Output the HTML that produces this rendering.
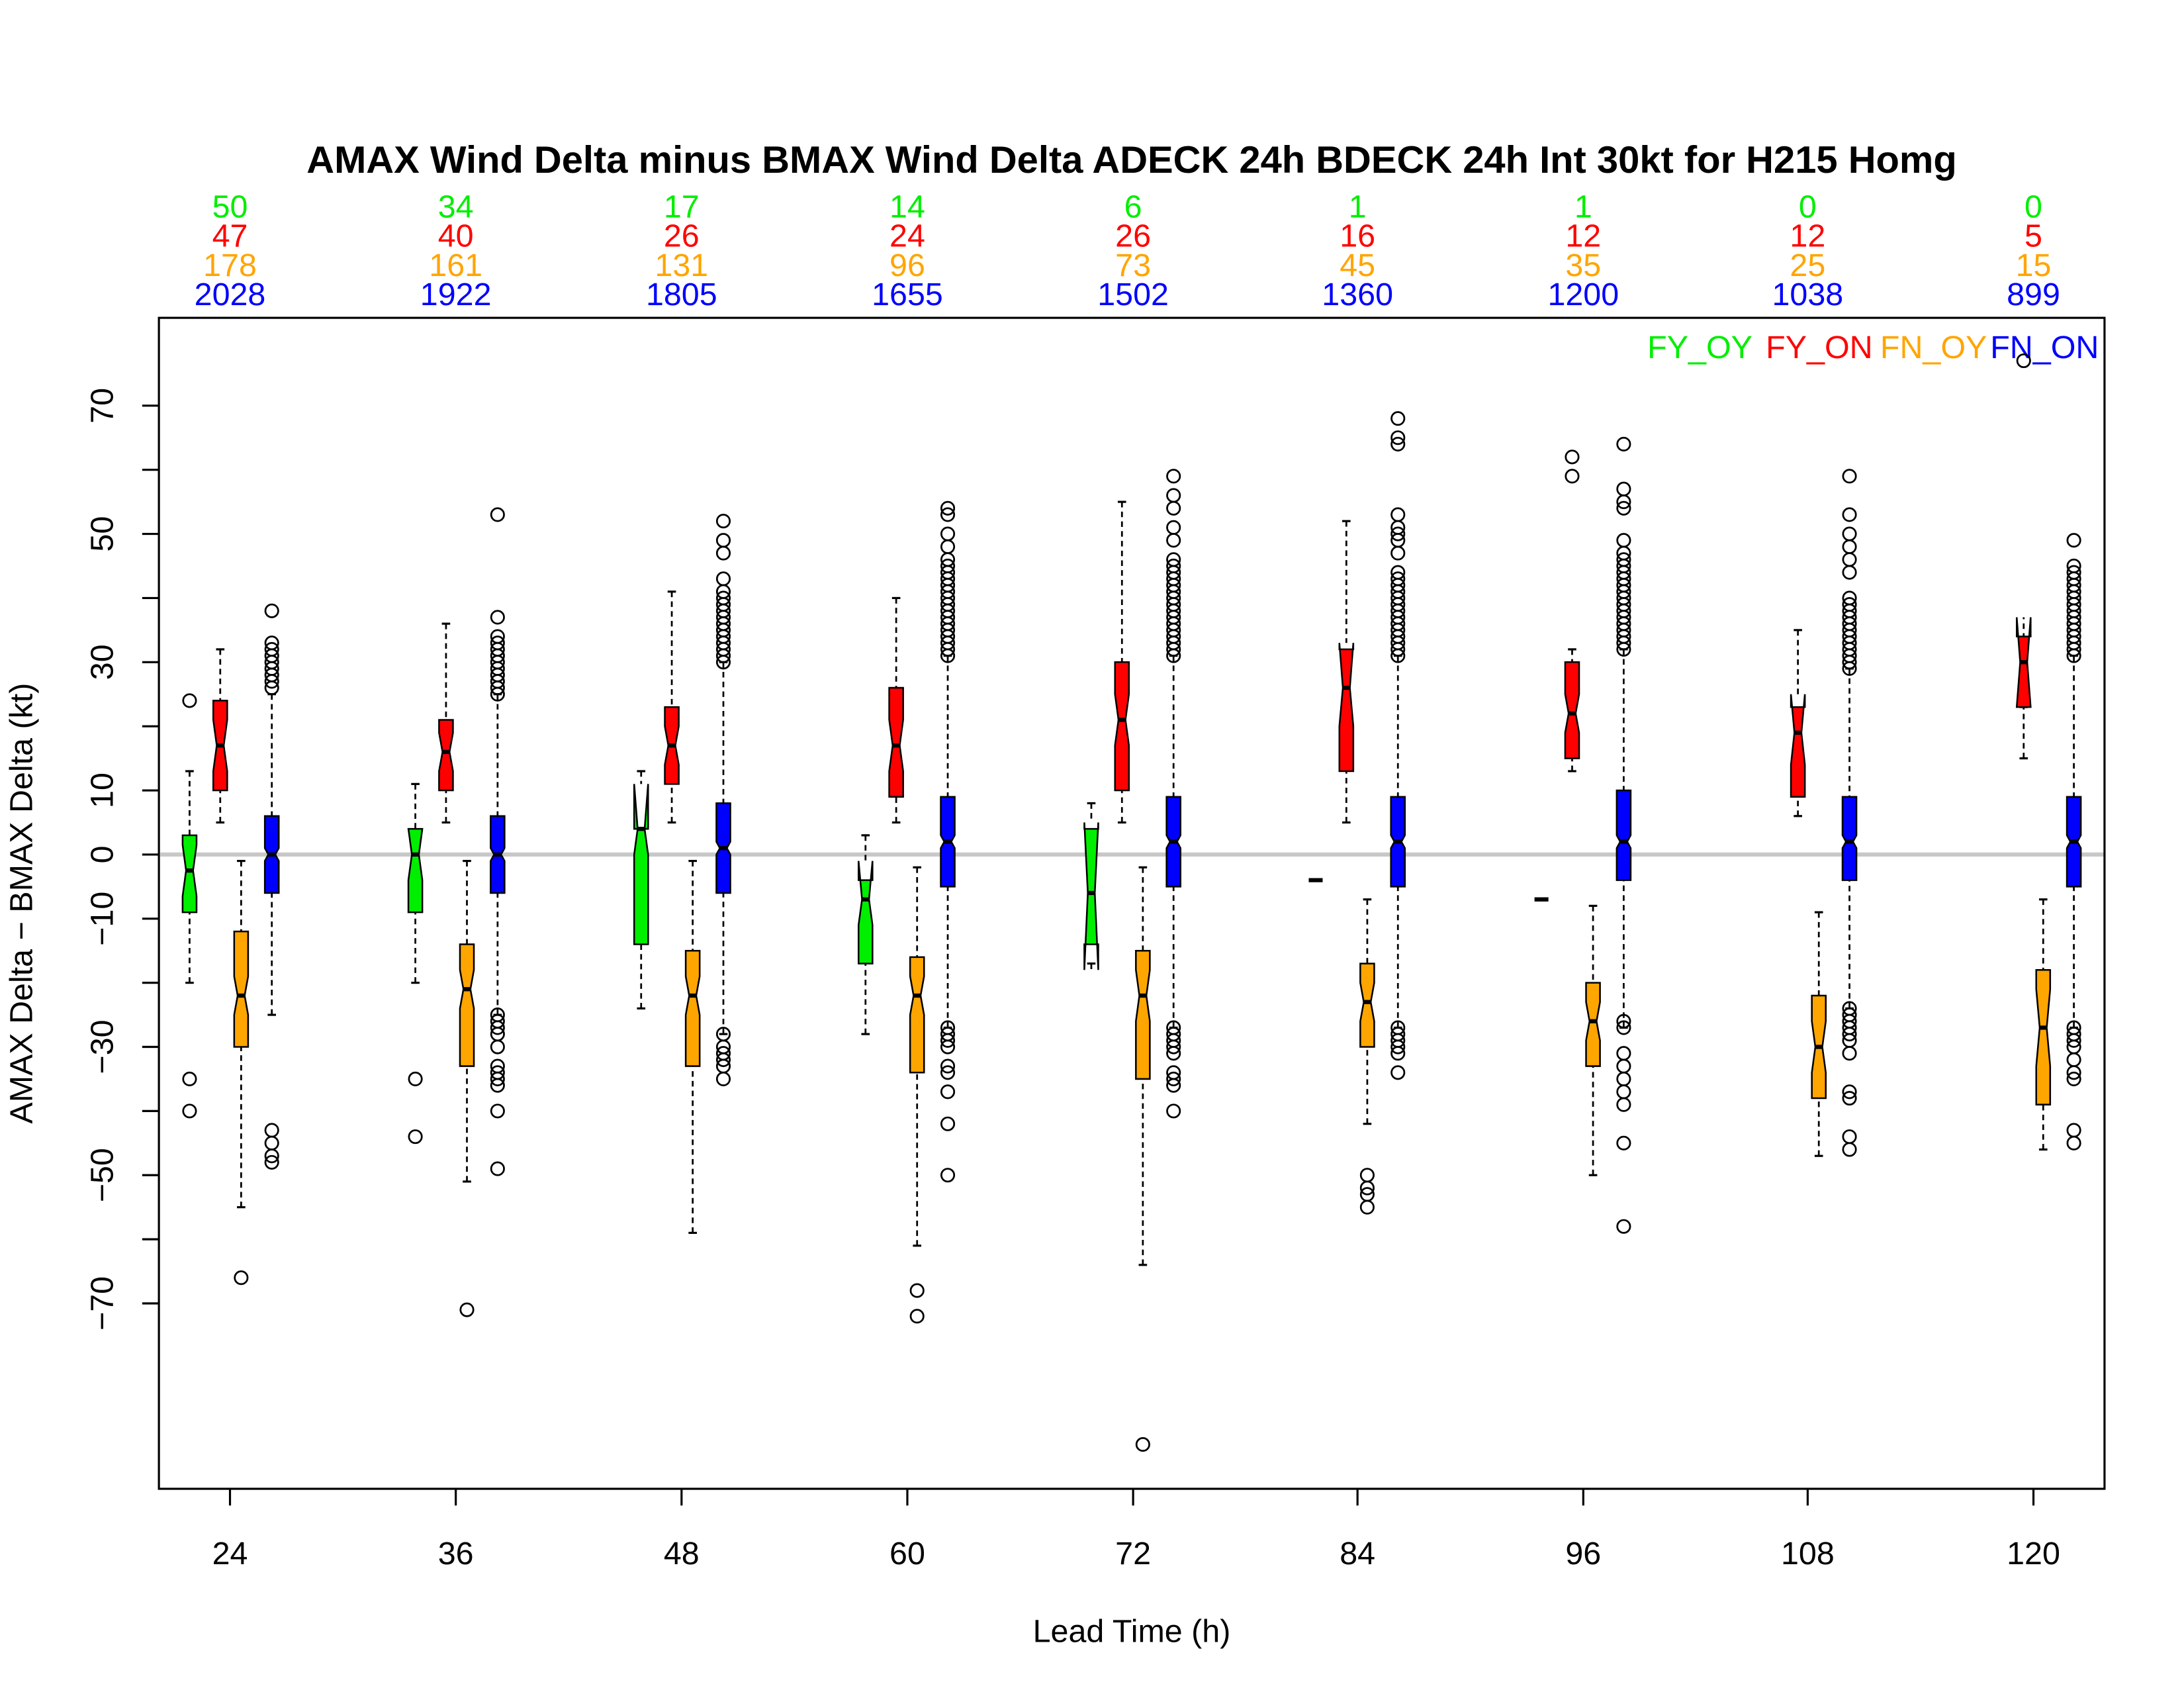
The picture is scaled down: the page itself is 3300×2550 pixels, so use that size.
<!DOCTYPE html>
<html><head><meta charset="utf-8"><style>
html,body{margin:0;padding:0;background:#fff}
svg{display:block}
text{font-family:"Liberation Sans",Arial,sans-serif}
</style></head><body>
<svg id="s" width="3300" height="2550" viewBox="0 0 1567 1210.9" xmlns="http://www.w3.org/2000/svg">
<rect x="0" y="0" width="1567" height="1211" fill="#fff"/>
<line x1="115" y1="613" x2="1510" y2="613" stroke="#c8c8c8" stroke-width="3"/>
<rect x="114" y="228" width="1396" height="840" fill="none" stroke="#000" stroke-width="1.5"/>
<text x="812" y="124" text-anchor="middle" font-size="27.5" font-weight="bold">AMAX Wind Delta minus BMAX Wind Delta ADECK 24h BDECK 24h Int 30kt for H215 Homg</text>
<g font-size="23" text-anchor="middle">
<g fill="#00ee00"><text x="165" y="156">50</text><text x="327" y="156">34</text><text x="489" y="156">17</text><text x="651" y="156">14</text><text x="813" y="156">6</text><text x="974" y="156">1</text><text x="1136" y="156">1</text><text x="1297" y="156">0</text><text x="1459" y="156">0</text></g>
<g fill="#ff0000"><text x="165" y="177">47</text><text x="327" y="177">40</text><text x="489" y="177">26</text><text x="651" y="177">24</text><text x="813" y="177">26</text><text x="974" y="177">16</text><text x="1136" y="177">12</text><text x="1297" y="177">12</text><text x="1459" y="177">5</text></g>
<g fill="#ffa500"><text x="165" y="198">178</text><text x="327" y="198">161</text><text x="489" y="198">131</text><text x="651" y="198">96</text><text x="813" y="198">73</text><text x="974" y="198">45</text><text x="1136" y="198">35</text><text x="1297" y="198">25</text><text x="1459" y="198">15</text></g>
<g fill="#0000ff"><text x="165" y="219">2028</text><text x="327" y="219">1922</text><text x="489" y="219">1805</text><text x="651" y="219">1655</text><text x="813" y="219">1502</text><text x="974" y="219">1360</text><text x="1136" y="219">1200</text><text x="1297" y="219">1038</text><text x="1459" y="219">899</text></g>
</g>
<g font-size="23">
<text x="1182" y="257" fill="#00ee00">FY_OY</text>
<text x="1267" y="257" fill="#ff0000">FY_ON</text>
<text x="1349" y="257" fill="#ffa500">FN_OY</text>
<text x="1428" y="257" fill="#0000ff">FN_ON</text>
</g>
<g font-size="23" text-anchor="middle">
<text x="165" y="1122">24</text><text x="327" y="1122">36</text><text x="489" y="1122">48</text><text x="651" y="1122">60</text><text x="813" y="1122">72</text><text x="974" y="1122">84</text><text x="1136" y="1122">96</text><text x="1297" y="1122">108</text><text x="1459" y="1122">120</text>
<text x="812" y="1178">Lead Time (h)</text>
</g>
<g font-size="23" text-anchor="middle">
<text transform="translate(81,291) rotate(-90)">70</text>
<text transform="translate(81,383) rotate(-90)">50</text>
<text transform="translate(81,475) rotate(-90)">30</text>
<text transform="translate(81,567) rotate(-90)">10</text>
<text transform="translate(81,613) rotate(-90)">0</text>
<text transform="translate(81,659) rotate(-90)">−10</text>
<text transform="translate(81,751) rotate(-90)">−30</text>
<text transform="translate(81,843) rotate(-90)">−50</text>
<text transform="translate(81,935) rotate(-90)">−70</text>
<text transform="translate(23,648) rotate(-90)">AMAX Delta − BMAX Delta (kt)</text>
</g>
<g id="g"></g>
</svg>
<script>
var g=document.getElementById('g'),h='';
function Y(v){return 613-4.6*v}
for(var v=-70;v<=70;v+=10){h+='<line x1="102" x2="114" y1="'+Y(v)+'" y2="'+Y(v)+'" stroke="#000" stroke-width="1.5"/>'}
var xs=[165,327,489,651,813,974,1136,1297,1459];
xs.forEach(function(x){h+='<line x1="'+x+'" x2="'+x+'" y1="1068" y2="1080" stroke="#000" stroke-width="1.5"/>'});
function rng(a,b,s){var r=[];for(var v=a;v<=b+0.01;v+=s)r.push(v);return r}
function box(x,col,q1,md,q3,wl,wh,nt,outs,nlo,nhi){
 var w=5;
 if(nlo===undefined)nlo=md-nt; if(nhi===undefined)nhi=md+nt;
 h+='<line x1="'+x+'" x2="'+x+'" y1="'+Y(wh)+'" y2="'+Y(Math.max(q3,nhi))+'" stroke="#000" stroke-dasharray="4,3" stroke-width="1.3"/>';
 h+='<line x1="'+x+'" x2="'+x+'" y1="'+Y(wl)+'" y2="'+Y(Math.min(q1,nlo))+'" stroke="#000" stroke-dasharray="4,3" stroke-width="1.3"/>';
 h+='<line x1="'+(x-3)+'" x2="'+(x+3)+'" y1="'+Y(wh)+'" y2="'+Y(wh)+'" stroke="#000" stroke-width="1.5"/>';
 h+='<line x1="'+(x-3)+'" x2="'+(x+3)+'" y1="'+Y(wl)+'" y2="'+Y(wl)+'" stroke="#000" stroke-width="1.5"/>';
 var p=[[x-w,Y(q1)],[x-w,Y(nlo)],[x-w/2,Y(md)],[x-w,Y(nhi)],[x-w,Y(q3)],[x+w,Y(q3)],[x+w,Y(nhi)],[x+w/2,Y(md)],[x+w,Y(nlo)],[x+w,Y(q1)]];
 h+='<polygon points="'+p.map(function(a){return a.join(',')}).join(' ')+'" fill="'+col+'" stroke="#000" stroke-width="1.2"/>';
 h+='<line x1="'+(x-w/2)+'" x2="'+(x+w/2)+'" y1="'+Y(md)+'" y2="'+Y(md)+'" stroke="#000" stroke-width="3"/>';
 (outs||[]).forEach(function(o){h+='<circle cx="'+x+'" cy="'+Y(o)+'" r="4.6" fill="none" stroke="#000" stroke-width="1.3"/>'});
}
function single(x,v){h+='<line x1="'+(x-5)+'" x2="'+(x+5)+'" y1="'+Y(v)+'" y2="'+Y(v)+'" stroke="#000" stroke-width="3"/>'}
var G='#00ee00',R='#ff0000',O='#ffa500',B='#0000ff';
box(136,G,-9,-2.5,3,-20,13,4,[24,-35,-40]);
box(158,R,10,17,24,5,32,4);
box(173,O,-30,-22,-12,-1,-55,3,[-66]);
box(195,B,-6,0,6,-25,25,1,rng(26,33,1).concat([38],rng(-26,-39,-1.2).reverse(),[-43,-45,-47,-48]));
box(298,G,-9,0,4,-20,11,4,[-35,-44]);
box(320,R,10,16,21,5,36,3);
box(335,O,-33,-21,-14,-1,-51,3,[-71]);
box(357,B,-6,0,6,-25,25,1,rng(25,34,1).concat([37,53,-25,-26,-27,-28,-30,-33,-34,-35,-36,-40,-49]));
box(460,G,-14,4,4,-24,13,4,[],0,11);
box(482,R,11,17,23,5,41,3);
box(497,O,-33,-22,-15,-1,-59,3);
box(519,B,-6,1,8,-28,30,1,rng(30,41,1).concat([43,47,49,52,-28,-30,-31,-32,-33,-35]));
box(621,G,-17,-7,-4,-28,3,4,[],-11,-1);
box(643,R,9,17,26,5,40,4);
box(658,O,-34,-22,-16,-2,-61,3,[-68,-72]);
box(680,B,-5,2,9,-27,31,1,rng(31,46,1).concat([48,50,53,54,-27,-28,-29,-30,-33,-34,-37,-42,-50]));
box(783,G,-14,-6,4,-17,8,4,[],-18,5);
box(805,R,10,21,30,5,55,4);
box(820,O,-35,-22,-15,-2,-64,4,[-92]);
box(842,B,-5,2,9,-27,31,1,rng(31,46,1).concat([49,51,54,56,59,-27,-28,-29,-30,-31,-34,-35,-36,-40]));
single(944,-4);
box(966,R,13,26,32,5,52,5,[],20,33);
box(981,O,-30,-23,-17,-7,-42,3,[-50,-52,-53,-55]);
box(1003,B,-5,2,9,-27,31,1,rng(31,44,1).concat([47,49,50,51,53,64,65,68,-27,-28,-29,-30,-31,-34]));
single(1106,-7);
box(1128,R,15,22,30,13,32,3,[59,62]);
box(1143,O,-33,-26,-20,-8,-50,3);
box(1165,B,-4,2,10,-27,32,1,rng(32,47,1).concat([49,54,55,57,64,-26,-27,-31,-33,-35,-37,-39,-45,-58]));
box(1290,R,9,19,23,6,35,4,[],14,25);
box(1305,O,-38,-30,-22,-9,-47,4);
box(1327,B,-4,2,9,-24,29,1,rng(29,40,1).concat([44,46,48,50,53,59,-24,-25,-26,-27,-28,-29,-31,-37,-38,-44,-46]));
box(1452,R,23,30,34,15,23,6,[77],23,37);
box(1466,O,-39,-27,-18,-7,-46,6);
box(1488,B,-5,2,9,-27,31,1,rng(31,45,1).concat([49,-27,-28,-29,-30,-32,-34,-35,-43,-45]));
g.innerHTML=h;
</script>
</body></html>
